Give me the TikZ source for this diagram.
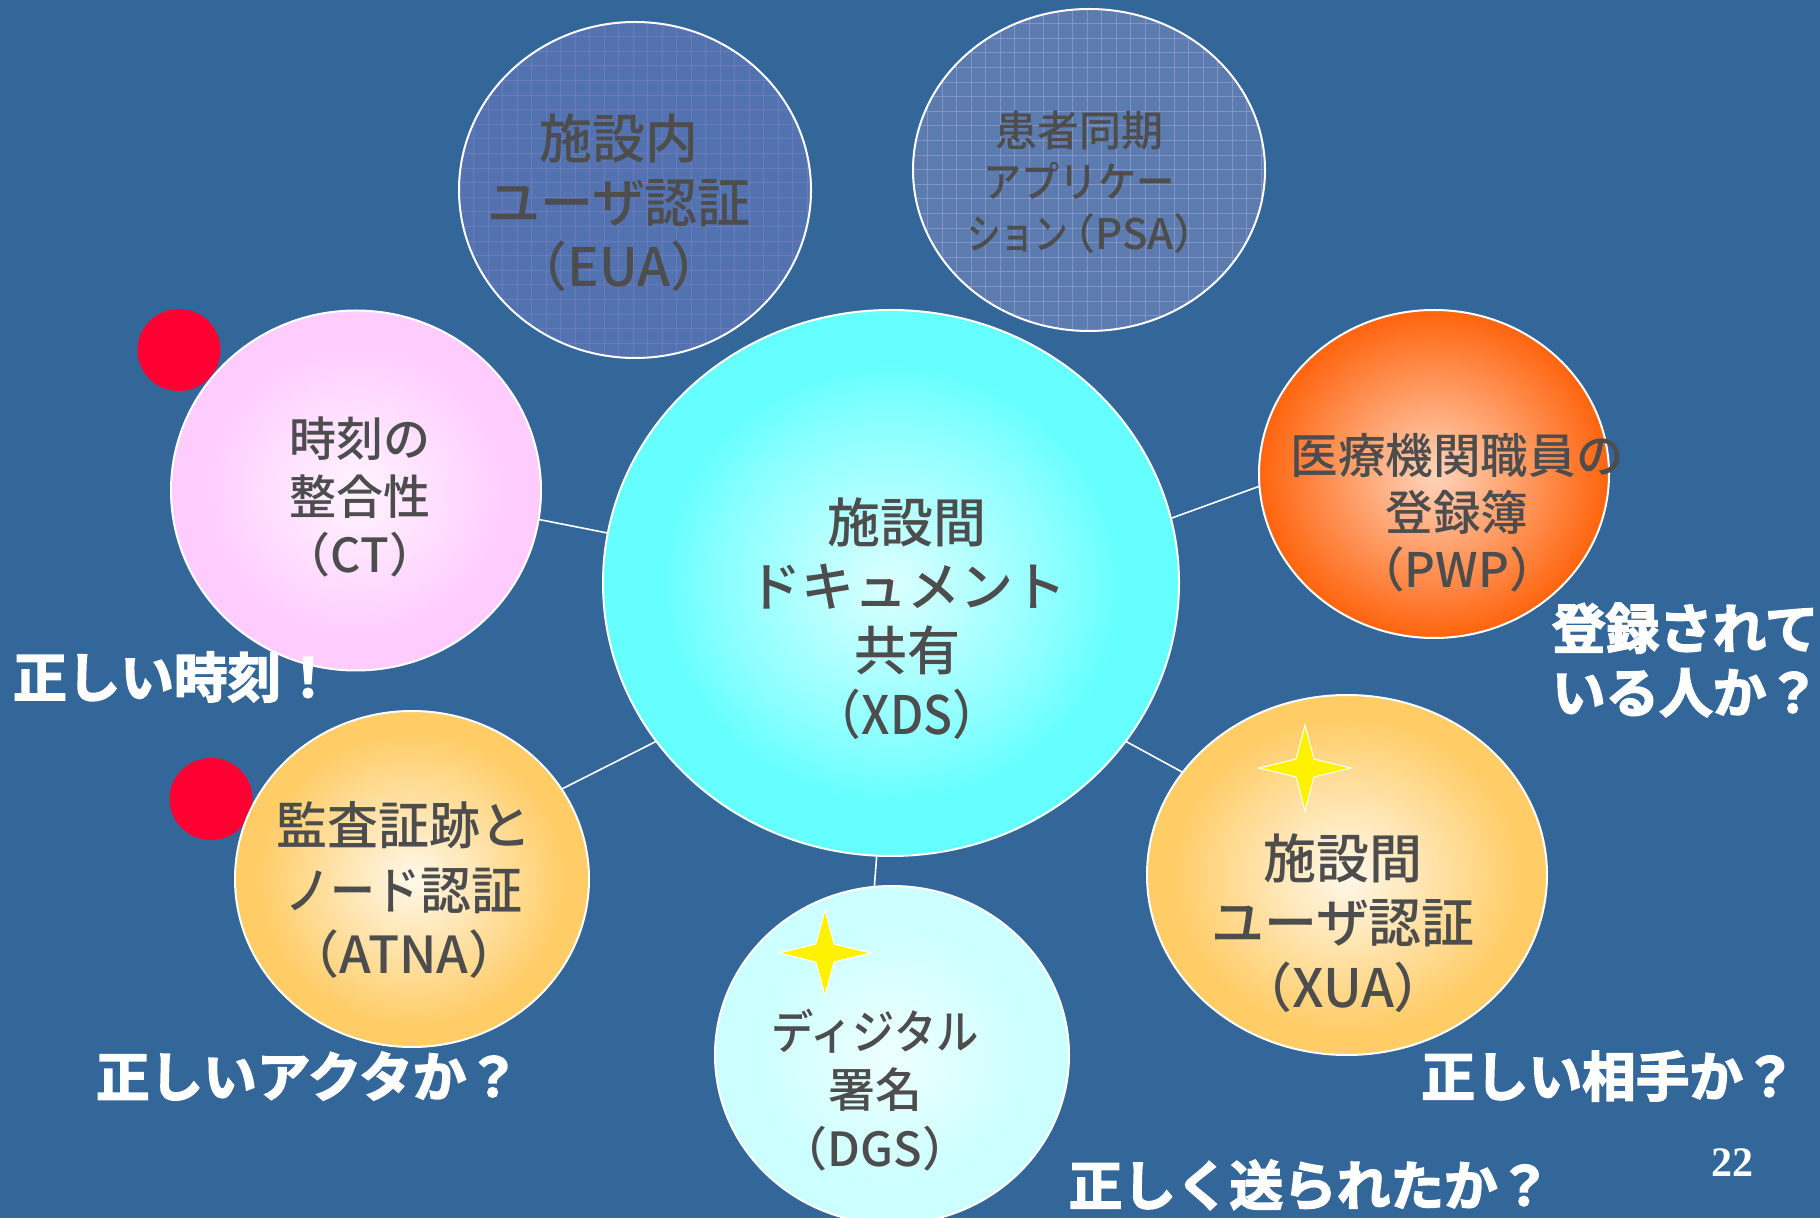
\documentclass[tikz,border=0pt]{standalone}
\usepackage{fontspec}
\usepackage{graphicx}
\usetikzlibrary{shapes.geometric}
\newfontfamily\jpfont{Noto Sans CJK JP Medium}
\newfontfamily\popfont[FakeBold=3]{Noto Sans CJK JP Bold}
\newfontfamily\pagefont{Liberation Serif Bold}
\definecolor{slide}{HTML}{336699}
\definecolor{inkgray}{HTML}{4D4D4D}
\definecolor{euabase}{HTML}{5272B0}
\definecolor{eualine}{HTML}{7C7EC6}
\definecolor{psabase}{HTML}{5C7BAE}
\definecolor{psaline}{HTML}{9CA4D6}
\definecolor{redspot}{HTML}{FF0033}
\definecolor{xdsin}{HTML}{DCFFFF}\definecolor{xdsmid}{HTML}{88FFFF}\definecolor{xdsout}{HTML}{66FFFF}
\definecolor{ctin}{HTML}{FFF4FF}\definecolor{ctout}{HTML}{FFCCFF}
\definecolor{pwpin}{HTML}{FFD4BC}\definecolor{pwpout}{HTML}{FF6611}
\definecolor{goldin}{HTML}{FFF8EA}\definecolor{goldout}{HTML}{FFCC66}
\definecolor{dgsin}{HTML}{EEFFFF}\definecolor{dgsout}{HTML}{CCFFFF}
\pgfdeclareradialshading{xdsfill}{\pgfpointorigin}{color(0bp)=(xdsin); color(15bp)=(xdsmid); color(20bp)=(xdsout); color(50bp)=(xdsout)}
\pgfdeclareradialshading{ctfill}{\pgfpointorigin}{color(0bp)=(ctin); color(21bp)=(ctout); color(50bp)=(ctout)}
\pgfdeclareradialshading{pwpfill}{\pgfpointorigin}{color(0bp)=(pwpin); color(24.5bp)=(pwpout); color(50bp)=(pwpout)}
\pgfdeclareradialshading{goldfill}{\pgfpointorigin}{color(0bp)=(goldin); color(22bp)=(goldout); color(50bp)=(goldout)}
\pgfdeclareradialshading{dgsfill}{\pgfpointorigin}{color(0bp)=(dgsin); color(19bp)=(dgsout); color(50bp)=(dgsout)}
\tikzset{
  bubble/.style={ellipse,draw=white,line width=1pt,inner sep=0pt,outer sep=0pt},
  link/.style={draw=white,line width=0.8pt},
  inklabel/.style 2 args={text=inkgray,align=center,inner sep=0pt,font=\jpfont\fontsize{#1}{#2}\selectfont},
  poplabel/.style={text=white,inner sep=0pt,font=\popfont\fontsize{26.8}{32}\selectfont},
  redspotstyle/.style={ellipse,fill=redspot,minimum width=41.5pt,minimum height=41pt,inner sep=0pt},
  sparkle/.style={fill=yellow,draw=white,line width=0.5pt,line join=miter}
}
\newcommand{\narrowjp}[2]{\scalebox{#1}[1]{#2}}
\newcommand{\gridfill}[1]{%
  \foreach \k in {0,...,24}{%
    \draw[#1,line width=0.35pt,opacity=0.6] ([xshift=\k*7.25pt]path picture bounding box.north west) -- ([xshift=\k*7.25pt]path picture bounding box.south west);
    \draw[#1,line width=0.35pt,opacity=0.6] ([yshift=-\k*7.3pt]path picture bounding box.north west) -- ([yshift=-\k*7.3pt]path picture bounding box.north east);
  }}
\begin{document}
\begin{tikzpicture}[x=0.5pt,y=-0.5pt]
\useasboundingbox (0,0) rectangle (1820,1218);
\fill[slide] (0,0) rectangle (1820,1218);
\node[redspotstyle] (spotct) at (179,350) {};
\node[redspotstyle] (spotatna) at (211,799) {};
\node[bubble,shade,shading=xdsfill,minimum width=288pt,minimum height=273pt] (xds) at (891,583) {};
\node[bubble,fill=euabase,minimum width=176pt,minimum height=168pt,path picture={\gridfill{eualine}}] (eua) at (635,190) {};
\node[bubble,fill=psabase,minimum width=176pt,minimum height=161pt,path picture={\gridfill{psaline}}] (psa) at (1089,170) {};
\node[bubble,shade,shading=ctfill,minimum width=185pt,minimum height=180pt] (ct) at (356,490.5) {};
\node[bubble,shade,shading=pwpfill,minimum width=175pt,minimum height=164pt] (pwp) at (1434,474) {};
\node[bubble,shade,shading=goldfill,minimum width=177pt,minimum height=168pt] (atna) at (412,879) {};
\node[bubble,shade,shading=goldfill,minimum width=200pt,minimum height=180pt] (xua) at (1347,875) {};
\node[bubble,shade,shading=dgsfill,minimum width=177pt,minimum height=169pt] (dgs) at (892,1055) {};
\draw[link] (ct.351) -- (xds.170);
\draw[link] (pwp.184) -- (xds.13.6);
\draw[link] (atna.31.5) -- (xds.214.2);
\draw[link] (xua.148.8) -- (xds.326.3);
\draw[link] (dgs.96) -- (xds.267.3);
\foreach \cx/\cy in {825/953,1305/768}{
  \path[sparkle] (\cx,\cy-43) -- (\cx+9,\cy-9) -- (\cx+46,\cy) -- (\cx+9,\cy+9) -- (\cx,\cy+43) -- (\cx-9,\cy+9) -- (\cx-46,\cy) -- (\cx-9,\cy-9) -- cycle;
}
\node[inklabel={26.5}{32}] (txds) at (907,618.5) {施設間\\ドキュメント\\共有\\\narrowjp{0.9}{（XDS）}};
\node[inklabel={26.5}{32}] (teua) at (619,203) {施設内\\ユーザ認証\\（EUA）};
\node[inklabel={21}{25.7}] (tpsa) at (1079,182) {患者同期\\\narrowjp{0.91}{アプリケー}\\\hspace*{0.6em}\narrowjp{0.8}{ション}\kern-0.35em（PSA）};
\node[inklabel={23.5}{29}] (tct) at (360,497) {時刻の\\整合性\\（CT）};
\node[inklabel={23.8}{28.5}] (tpwp) at (1457,513) {医療機関職員の\\登録簿\\（PWP）};
\node[inklabel={25.5}{32.2}] (tatna) at (404,890) {監査証跡と\\\narrowjp{0.88}{ノード}認証\\（ATNA）};
\node[inklabel={26.5}{32.2}] (txua) at (1343,923) {施設間\\ユーザ認証\\（XUA）};
\node[inklabel={23.5}{29.2}] (tdgs) at (875,1090) {\narrowjp{0.9}{ディジタル}\\署名\\（DGS）};
\node[poplabel] (lct) at (174,677) {正しい時刻！};
\node[poplabel,align=left] (lpwp) at (1686,660) {登録されて\\いる人か？};
\node[poplabel] (latna) at (308,1076) {正しいアクタか？};
\node[poplabel] (lxua) at (1609,1076) {正しい相手か？};
\node[poplabel] (ldgs) at (1310,1185) {正しく送られたか？};
\node[text=white,inner sep=0pt,font=\pagefont\fontsize{21}{21}\selectfont] (pageno) at (1732,1163) {22};
\end{tikzpicture}
\end{document}
